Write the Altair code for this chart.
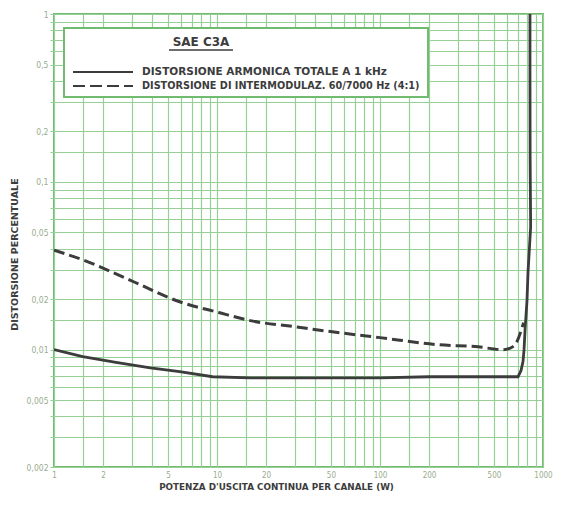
import altair as alt
import pandas as pd

# ---- data ----
thd_w = [1, 1.5, 2.4, 3.9, 5.9, 9.4, 16, 30, 60, 100, 200, 400, 703, 733, 754, 765, 776, 798, 809, 840, 834, 832, 832]
thd_pct = [0.010, 0.0091, 0.0084, 0.0078, 0.0074, 0.0069, 0.0068, 0.0068, 0.0068, 0.0068, 0.0069, 0.0069, 0.0069,
           0.0075, 0.0085, 0.0100, 0.0131, 0.0198, 0.0287, 0.054, 0.135, 0.405, 1.0]

imd_w = [1, 1.5, 2.9, 5.9, 10.4, 16, 30, 57, 100, 230, 400, 570, 640, 693, 743, 760]
imd_pct = [0.0392, 0.0343, 0.0261, 0.0193, 0.0166, 0.0149, 0.0137, 0.0126, 0.0118, 0.0107, 0.0104, 0.0100,
           0.0103, 0.0112, 0.0135, 0.0145]

series_names = ["DISTORSIONE ARMONICA TOTALE A 1 kHz", "DISTORSIONE DI INTERMODULAZ. 60/7000 Hz (4:1)"]
legend_title = "SAE C3A"

x_grid = [1, 1.5, 2, 3, 4, 5, 6, 7, 8, 9,
          10, 15, 20, 30, 40, 50, 60, 70, 80, 90,
          100, 150, 200, 300, 400, 500, 600, 700, 800, 900, 1000]
x_labels = [1, 2, 5, 10, 20, 50, 100, 200, 500, 1000]
y_grid = [0.002, 0.003, 0.004, 0.005, 0.006, 0.007, 0.008, 0.009,
          0.01, 0.015, 0.02, 0.03, 0.04, 0.05, 0.06, 0.07, 0.08, 0.09,
          0.1, 0.15, 0.2, 0.3, 0.4, 0.5, 0.6, 0.7, 0.8, 0.9, 1]
y_labels = [0.002, 0.005, 0.01, 0.02, 0.05, 0.1, 0.2, 0.5, 1]

x_title = "POTENZA D'USCITA CONTINUA PER CANALE (W)"
y_title = "DISTORSIONE PERCENTUALE"

# ---- styles ----
GREEN = "#96d096"
BORDER = "#70bb70"
INK = "#3c3c3c"
LABEL = "#98ac8e"
FONT = "DejaVu Sans Condensed, Liberation Sans Narrow, DejaVu Sans, sans-serif"
WIDE = "DejaVu Sans, sans-serif"

df = pd.concat([
    pd.DataFrame({"w": thd_w, "pct": thd_pct, "serie": series_names[0], "i": range(len(thd_w))}),
    pd.DataFrame({"w": imd_w, "pct": imd_pct, "serie": series_names[1], "i": range(len(imd_w))}),
])

x_list = ",".join(str(v) for v in x_labels)
y_list = ",".join(str(v) for v in y_labels)

xscale = alt.Scale(type="log", domain=[1, 1000], nice=False)
yscale = alt.Scale(type="log", domain=[0.002, 1], nice=False)

xaxis = alt.Axis(
    values=x_grid, title=x_title, grid=True, gridColor=GREEN, gridWidth=1.2,
    domain=False, ticks=False, labelPadding=4, labelFontSize=8, labelColor=LABEL, labelFont=FONT,
    labelExpr=f"indexof([{x_list}], datum.value) >= 0 ? toString(datum.value) : ''",
    labelFlush=False, labelOverlap=False,
    titleFont=WIDE, titleFontSize=8.8, titleFontWeight="bold", titleColor=INK,
    titleX=222, titleY=19, titleBaseline="middle", titleAlign="center", titleAnchor="start",
)
yaxis = alt.Axis(
    values=y_grid, title=y_title, grid=True, gridColor=GREEN, gridWidth=1.2,
    domain=False, ticks=True, tickSize=4, tickColor=GREEN, labelPadding=2,
    labelFontSize=8.5, labelColor=LABEL, labelFont=FONT,
    labelExpr=f"indexof([{y_list}], datum.value) >= 0 ? replace(toString(datum.value), '.', ',') : ''",
    labelFlush=False, labelOverlap=False,
    titleFont=WIDE, titleFontSize=9.5, titleFontWeight="bold", titleColor=INK,
    titleX=-40, titleY=240, titleAngle=270, titleBaseline="middle", titleAlign="center", titleAnchor="start",
)

thd_chart = alt.Chart(df[df.serie == series_names[0]]).mark_line(
    color=INK, strokeWidth=2.8, interpolate="linear", clip=True
).encode(
    x=alt.X("w:Q", scale=xscale, axis=xaxis),
    y=alt.Y("pct:Q", scale=yscale, axis=yaxis),
    order="i:Q",
)

imd_chart = alt.Chart(df[df.serie == series_names[1]]).mark_line(
    color=INK, strokeWidth=3, strokeDash=[11, 5], interpolate="monotone", clip=True
).encode(
    x=alt.X("w:Q", scale=xscale),
    y=alt.Y("pct:Q", scale=yscale),
    order="i:Q",
)

one = pd.DataFrame({"k": [0]})

box = alt.Chart(one).mark_rect(fill="white", stroke=BORDER, strokeWidth=2).encode(
    x=alt.value(10), x2=alt.value(374), y=alt.value(14), y2=alt.value(83)
)
title_txt = alt.Chart(one).mark_text(
    text=legend_title, font=WIDE, fontSize=12, fontWeight="bold", color=INK, align="center", baseline="middle"
).encode(x=alt.value(147), y=alt.value(28))
underline = alt.Chart(one).mark_rule(color=INK, strokeWidth=1.5).encode(
    x=alt.value(115), x2=alt.value(179), y=alt.value(36)
)
sample_solid = alt.Chart(one).mark_rule(color=INK, strokeWidth=1.8).encode(
    x=alt.value(19), x2=alt.value(79), y=alt.value(58)
)
sample_dash = alt.Chart(one).mark_rule(color=INK, strokeWidth=1.8, strokeDash=[12, 5]).encode(
    x=alt.value(19), x2=alt.value(79), y=alt.value(72)
)
lab1 = alt.Chart(one).mark_text(
    text=series_names[0], font=WIDE, fontSize=10.5, fontWeight="bold", color=INK, align="left", baseline="middle"
).encode(x=alt.value(88), y=alt.value(58))
lab2 = alt.Chart(one).mark_text(
    text=series_names[1], font=WIDE, fontSize=9.7, fontWeight="bold", color=INK, align="left", baseline="middle"
).encode(x=alt.value(88), y=alt.value(72))

chart = alt.layer(
    thd_chart, imd_chart, box, title_txt, underline, sample_solid, sample_dash, lab1, lab2
).properties(
    width=489, height=453,
    autosize=alt.AutoSizeParams(type="none"),
    padding={"left": 46, "top": 6, "right": 16, "bottom": 32},
    background="white",
).configure_view(
    stroke=BORDER, strokeWidth=2
)

chart.save("out.html", embed_options={"renderer": "svg", "actions": False})
